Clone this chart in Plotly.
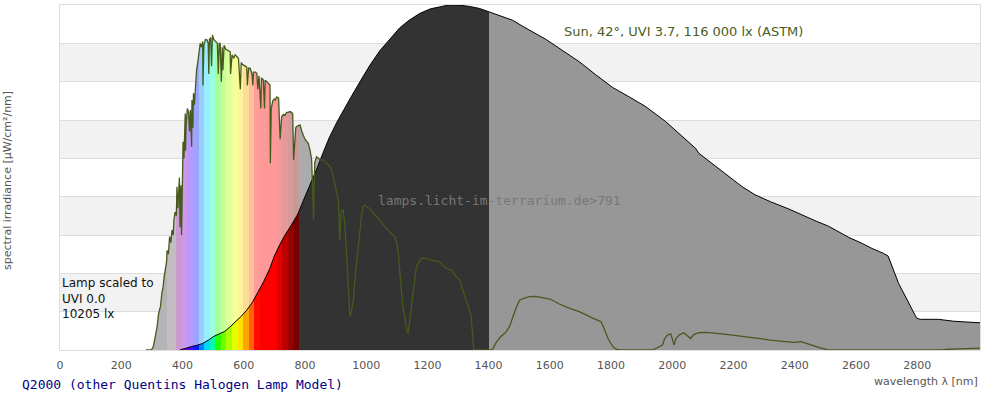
import numpy as np
import plotly.graph_objects as go

# ---------------- data ----------------
# Sun (ASTM) spectrum, split into three wavelength ranges
sun_uv_nm = [280, 295, 300, 305, 310, 317, 322, 328, 333, 337, 340, 344, 348, 350, 354, 358, 362, 366, 370,
             372, 376]
sun_uv_val = [0, 0, 0.02, 0.1, 0.3, 0.6, 0.95, 1.13, 1.5, 1.65, 1.9, 2.09, 2.3, 2.6, 2.5, 2.96, 2.8, 3.13, 3.0,
              3.39, 3.6]

sun_vis_nm = [380, 382, 385, 388, 390, 392, 395, 397, 400, 402, 405, 407, 409, 410, 412, 416, 420, 423, 426,
              430, 431, 434, 436, 439, 442, 446, 450, 453, 458, 462, 466, 467, 470, 475, 480, 484, 486, 488,
              492, 495, 498, 502, 508, 514, 517, 520, 523, 527, 530, 532, 536, 541, 545, 550, 556, 557, 562,
              567, 572, 578, 583, 589, 592, 596, 599, 605, 610, 612, 616, 621, 627, 630, 632, 638, 643, 646,
              650, 656, 658, 664, 668, 670, 676, 680, 686, 687, 690, 695, 700, 703, 708, 714, 719, 724, 730,
              735, 740, 745, 751, 756, 760, 763, 766, 770, 773, 778]
sun_vis_val = [3.5, 4.26, 3.7, 4.1, 4.5, 3.2, 4.3, 3.0, 4.6, 5.43, 5.0, 5.9, 6.17, 5.2, 5.9, 6.3, 6.2, 5.7, 6.26,
               5.3, 6.52, 5.8, 6.7, 6.4, 6.96, 7.3, 7.5, 7.65, 8.0, 7.9, 8.05, 6.9, 7.95, 8.1, 8.09, 8.0, 7.2, 8.1,
               8.15, 7.4, 8.22, 8.1, 8.05, 8.0, 7.2, 8.0, 8.0, 7.0, 7.9, 7.3, 7.95, 7.85, 7.83, 7.8, 7.78, 7.2, 7.7,
               7.61, 7.7, 7.65, 7.6, 6.8, 7.5, 7.45, 7.43, 7.4, 7.38, 6.9, 7.35, 7.35, 7.2, 6.9, 7.25, 7.25, 7.22, 6.8,
               7.15, 6.3, 7.1, 7.05, 6.3, 7.04, 6.98, 6.95, 6.91, 4.87, 6.3, 6.5, 6.55, 6.52, 6.6, 6.57, 5.5, 6.09, 6.15,
               6.13, 6.2, 6.2, 6.22, 6.2, 6.17, 4.96, 5.3, 5.8, 5.83, 5.85]

sun_ir_nm = [784, 790, 795, 800, 805, 811, 817, 822, 826, 828, 832, 838, 844, 852, 860, 868, 875, 882, 890,
             898, 904, 909, 914, 918, 925, 931, 936, 941, 944, 947, 952, 958, 965, 970, 974, 980, 985, 990,
             995, 1001, 1010, 1020, 1034, 1050, 1066, 1080, 1094, 1100, 1105, 1110, 1115, 1120, 1126, 1131,
             1137, 1142, 1148, 1155, 1164, 1172, 1181, 1190, 1200, 1208, 1220, 1230, 1240, 1250, 1262, 1270,
             1278, 1290, 1305, 1315, 1327, 1335, 1343, 1348, 1351, 1355, 1410, 1414, 1425, 1440, 1455, 1468,
             1480, 1490, 1501, 1515, 1533, 1550, 1566, 1580, 1600, 1631, 1663, 1696, 1720, 1740, 1755, 1767,
             1775, 1783, 1790, 1799, 1808, 1816, 1830, 1935, 1950, 1968, 1975, 1984, 1995, 2000, 2006, 2012,
             2022, 2030, 2038, 2048, 2060, 2070, 2087, 2110, 2130, 2160, 2196, 2240, 2282, 2320, 2370, 2400,
             2420, 2435, 2456, 2480, 2500, 2510, 2880, 2900, 2935, 2960, 2990, 3005]
sun_ir_val = [5.87, 5.7, 5.57, 5.5, 5.45, 5.39, 5.2, 4.96, 4.0, 3.39, 4.9, 5.04, 5.0, 4.95, 4.96, 4.9, 4.85, 4.78, 4.6,
              4.35, 4.1, 3.91, 2.87, 3.6, 3.65, 3.22, 2.5, 1.65, 1.2, 0.87, 1.0, 1.3, 2.0, 2.4, 2.61, 3.2, 3.5, 3.74,
              3.78, 3.74, 3.7, 3.6, 3.48, 3.33, 3.17, 3.05, 2.96, 2.8, 2.52, 2.0, 1.48, 1.1, 0.87, 0.6,
              0.43, 0.8, 1.13, 1.6, 2.17, 2.3, 2.39, 2.4, 2.38, 2.35, 2.33, 2.32, 2.3, 2.2, 2.13, 2.1,
              2.09, 1.95, 1.83, 1.6, 1.3, 1.1, 0.87, 0.4, 0.04, 0, 0, 0.04, 0.2, 0.35, 0.45, 0.61,
              0.9, 1.1, 1.3, 1.35, 1.39, 1.4, 1.38, 1.36, 1.33, 1.2, 1.09, 1.0, 0.9, 0.83, 0.78, 0.74,
              0.6, 0.43, 0.3, 0.17, 0.07, 0.02, 0, 0, 0.05, 0.13, 0.3, 0.39, 0.42, 0.3, 0.13, 0.3,
              0.39, 0.42, 0.45, 0.38, 0.3, 0.4, 0.45, 0.46, 0.45, 0.42, 0.39, 0.34, 0.3, 0.26, 0.22, 0.2,
              0.22, 0.19, 0.13, 0.06, 0.02, 0, 0, 0.02, 0.03, 0.04, 0.04, 0.05]

# Lamp (halogen model) spectrum
lamp_nm = [391, 410, 430, 450, 466, 485, 501, 520, 537, 555, 574, 592, 610, 628, 646, 665, 685, 700, 718,
           735, 755, 777, 795, 817, 840, 861, 880, 905, 925, 947, 980, 1010, 1044, 1075, 1109, 1140, 1175,
           1210, 1240, 1270, 1300, 1340, 1370, 1398, 1440, 1479, 1510, 1544, 1588, 1640, 1696, 1750, 1805,
           1860, 1913, 1978, 2030, 2076, 2087, 2130, 2180, 2228, 2270, 2320, 2380, 2434, 2470, 2510, 2545,
           2576, 2620, 2652, 2690, 2705, 2739, 2770, 2798, 2810, 2869, 2920, 2960, 3005]
lamp_val = [0.0, 0.05, 0.09, 0.13, 0.17, 0.26, 0.35, 0.42, 0.48, 0.6, 0.74, 0.88, 1.04, 1.24, 1.5, 1.78, 2.12,
            2.45, 2.75, 3.0, 3.25, 3.55, 3.9, 4.3, 4.75, 5.18, 5.55, 5.95, 6.25, 6.55, 7.0, 7.4, 7.8, 8.1, 8.4,
            8.6, 8.78, 8.9, 8.96, 9.0, 9.0, 8.96, 8.91, 8.83, 8.72, 8.6, 8.45, 8.3, 8.1, 7.82, 7.52, 7.18,
            6.85, 6.6, 6.35, 5.96, 5.6, 5.26, 5.13, 4.87, 4.55, 4.26, 4.05, 3.87, 3.68, 3.48, 3.36, 3.23, 3.07,
            2.94, 2.78, 2.65, 2.52, 2.45, 1.74, 1.25, 0.83, 0.80, 0.80, 0.75, 0.73, 0.71]

x_ticks = [0, 200, 400, 600, 800, 1000, 1200, 1400, 1600, 1800, 2000, 2200, 2400, 2600, 2800]
x_tick_labels = [str(t) for t in x_ticks]

sun_nm = sun_uv_nm + sun_vis_nm + sun_ir_nm
sun_val = sun_uv_val + sun_vis_val + sun_ir_val
assert len(sun_nm) == len(sun_val) and len(lamp_nm) == len(lamp_val)

# ---------------- styling ----------------
X0, X1 = 0, 3005
Y0, Y1 = 0, 9
SUN_GREEN = "#475a1e"


def spectrum_rgb(w):
    if w < 440:
        r, g, b = -(w - 440) / 60.0, 0.0, 1.0
    elif w < 490:
        r, g, b = 0.0, (w - 440) / 50.0, 1.0
    elif w < 510:
        r, g, b = 0.0, 1.0, -(w - 510) / 20.0
    elif w < 580:
        r, g, b = (w - 510) / 70.0, 1.0, 0.0
    elif w < 645:
        r, g, b = 1.0, -(w - 645) / 65.0, 0.0
    else:
        r, g, b = 1.0, 0.0, 0.0
    if w < 420:
        f = 0.3 + 0.7 * (w - 380) / 40.0
    elif w > 700:
        f = 0.3 + 0.7 * (780 - w) / 80.0
    else:
        f = 1.0
    return [255 * (c * f) ** 0.8 if c > 0 else 0 for c in (r, g, b)]


def rgb_hex(c):
    return "#%02x%02x%02x" % tuple(int(round(min(255, max(0, v)))) for v in c)


band_edges = np.linspace(380, 780, 23)
sat_colors, pale_colors = [], []
for a, b in zip(band_edges[:-1], band_edges[1:]):
    c = spectrum_rgb((a + b) / 2)
    sat_colors.append(rgb_hex(c))
    pale_colors.append(rgb_hex([0.4 * v + 153 for v in c]))


def step_scale(segments):
    scale = []
    for a, b, col in segments:
        pa = min(1.0, max(0.0, (a - X0) / (X1 - X0)))
        pb = min(1.0, max(0.0, (b - X0) / (X1 - X0)))
        scale.append([pa, col])
        scale.append([pb, col])
    scale[0][0] = 0.0
    scale[-1][0] = 1.0
    return scale


lamp_segments = [(X0, 380, sat_colors[0])]
lamp_segments += [(a, b, c) for a, b, c in zip(band_edges[:-1], band_edges[1:], sat_colors)]
lamp_segments += [(780, 1400, "#333333"), (1400, X1, "#979797")]

sun_segments = [(X0, 350, "#b4b4b4"), (350, 380, "#c3bdc3")]
sun_segments += [(a, b, c) for a, b, c in zip(band_edges[:-1], band_edges[1:], pale_colors)]
sun_segments += [(780, X1, "#ababab")]

fig = go.Figure()

# sun area (pale colours)
fig.add_trace(go.Scatter(
    x=sun_nm, y=sun_val, mode="lines", line=dict(width=0, color=SUN_GREEN),
    fill="tozeroy",
    fillgradient=dict(type="horizontal", colorscale=step_scale(sun_segments), start=X0, stop=X1),
    hoverinfo="skip", showlegend=False))

# lamp area (saturated colours) with black outline
fig.add_trace(go.Scatter(
    x=lamp_nm, y=lamp_val, mode="lines", line=dict(width=1, color="#000000"),
    fill="tozeroy",
    fillgradient=dict(type="horizontal", colorscale=step_scale(lamp_segments), start=X0, stop=X1),
    hoverinfo="skip", showlegend=False))

# sun line
fig.add_trace(go.Scatter(
    x=sun_nm, y=sun_val, mode="lines", line=dict(width=1.3, color=SUN_GREEN),
    hoverinfo="skip", showlegend=False))

# alternating horizontal stripes
shapes = []
for k in range(1, 9, 2):
    shapes.append(dict(type="rect", xref="paper", x0=0, x1=1, yref="y", y0=k, y1=k + 1,
                       fillcolor="#f2f2f2", line=dict(width=0), layer="below"))

sans = "DejaVu Sans, Verdana, sans-serif"
mono = "DejaVu Sans Mono, monospace"

annotations = [
    dict(text="Sun, 42°, UVI 3.7, 116 000 lx (ASTM)", xref="paper", yref="paper",
         x=0.5457, y=0.9246, xanchor="left", yanchor="middle", showarrow=False,
         font=dict(family=sans, size=13, color="#4b5d22")),
    dict(text="Lamp scaled to<br>UVI 0.0<br>10205 lx", xref="paper", yref="paper", x=0, y=0.1507,
         xanchor="left", yanchor="middle", align="left", showarrow=False,
         font=dict(family=sans, size=12, color="#111111")),
    dict(text="lamps.licht-im-terrarium.de>791", xref="paper", yref="paper", x=0.478, y=0.432,
         xanchor="center", yanchor="middle", showarrow=False, font=dict(family=mono, size=13, color="#777777")),
    dict(text="Q2000 (other Quentins Halogen Lamp Model)", xref="paper", yref="paper", x=-0.0435, y=-0.0986,
         xanchor="left", yanchor="middle", showarrow=False, font=dict(family=mono, size=13, color="#000088")),
    dict(text="wavelength λ [nm]", xref="paper", yref="paper", x=1, y=-0.09,
         xanchor="right", yanchor="middle", showarrow=False, font=dict(family=sans, size=11, color="#555555")),
    dict(text="spectral irradiance [µW/cm²/nm]", xref="paper", yref="paper", x=-0.0565, y=0.49,
         xanchor="center", yanchor="middle", textangle=-90, showarrow=False,
         font=dict(family=sans, size=11, color="#555555")),
]

fig.update_layout(
    width=1000, height=400,
    margin=dict(l=60, r=20, t=5, b=50),
    paper_bgcolor="#ffffff", plot_bgcolor="#ffffff",
    shapes=shapes, annotations=annotations,
    xaxis=dict(range=[X0, X1], tickvals=x_ticks, ticktext=x_tick_labels, showgrid=False, zeroline=False,
               showline=True, mirror=True, linecolor="#dddddd", linewidth=1,
               ticks="outside", ticklen=5, tickcolor="rgba(0,0,0,0)",
               tickfont=dict(family=sans, size=11, color="#555555")),
    yaxis=dict(range=[Y0, Y1], dtick=1, showticklabels=False, showgrid=True, gridcolor="#dddddd",
               zeroline=False, showline=True, mirror=True, linecolor="#dddddd", linewidth=1, ticks=""),
)

fig.write_html("out.html", config={"displayModeBar": False, "staticPlot": True},
               post_script="document.body.style.margin='0';")
